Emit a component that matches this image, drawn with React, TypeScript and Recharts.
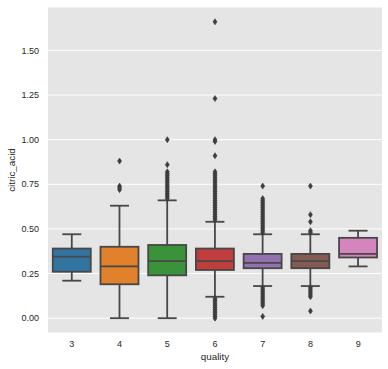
import React from 'react';
import { ComposedChart, Bar, Scatter, XAxis, YAxis, CartesianGrid, Label } from 'recharts';

// boxplot stats per wine quality (citric_acid)
const qualities = ['3', '4', '5', '6', '7', '8', '9'];
const whiskerLow = [0.21, 0.0, 0.0, 0.12, 0.18, 0.18, 0.29];
const lowerQuartile = [0.26, 0.19, 0.24, 0.27, 0.28, 0.28, 0.34];
const medians = [0.345, 0.29, 0.32, 0.32, 0.31, 0.32, 0.36];
const upperQuartile = [0.39, 0.40, 0.41, 0.39, 0.36, 0.36, 0.45];
const whiskerHigh = [0.47, 0.63, 0.66, 0.54, 0.47, 0.47, 0.49];

const fliers: number[][] = [
  [],
  [0.88, 0.74, 0.73, 0.72],
  [1.0, 0.86, 0.82, 0.81, 0.8, 0.79, 0.78, 0.77, 0.76, 0.75, 0.74, 0.73, 0.72, 0.71, 0.7, 0.69, 0.68, 0.67],
  [
    1.66, 1.23, 1.0, 0.99, 0.91, 0.82, 0.81, 0.8, 0.79, 0.78, 0.77, 0.76, 0.75, 0.74, 0.73, 0.72, 0.71, 0.7,
    0.69, 0.68, 0.67, 0.66, 0.65, 0.64, 0.63, 0.62, 0.61, 0.6, 0.59, 0.58, 0.57, 0.56, 0.55,
    0.11, 0.1, 0.09, 0.08, 0.07, 0.06, 0.05, 0.04, 0.03, 0.02, 0.01, 0.0,
  ],
  [
    0.74, 0.67, 0.66, 0.65, 0.64, 0.63, 0.62, 0.61, 0.6, 0.59, 0.58, 0.57, 0.56, 0.55, 0.54, 0.53, 0.52,
    0.51, 0.5, 0.49, 0.48, 0.17, 0.16, 0.15, 0.14, 0.13, 0.12, 0.11, 0.1, 0.09, 0.08, 0.07, 0.01,
  ],
  [0.74, 0.58, 0.54, 0.49, 0.48, 0.17, 0.16, 0.15, 0.14, 0.13, 0.12, 0.04],
  [],
];

const yTicks = [0, 0.25, 0.5, 0.75, 1.0, 1.25, 1.5];
const boxColors = ['#3274a1', '#e1812c', '#3a923a', '#c03d3e', '#9372b2', '#845b53', '#d684bd'];

const LINE = '#474747';

const data = qualities.map((q, i) => ({
  quality: q,
  span: [whiskerLow[i], whiskerHigh[i]],
  lo: whiskerLow[i],
  q1: lowerQuartile[i],
  med: medians[i],
  q3: upperQuartile[i],
  hi: whiskerHigh[i],
}));

const flierPoints = qualities.flatMap((q, i) => fliers[i].map(v => ({ quality: q, value: v })));

const BoxShape = (props: any) => {
  const { x, y, width, height, payload, index } = props;
  const top = Math.min(y, y + height);
  const bottom = Math.max(y, y + height);
  const { lo, hi, q1, med, q3 } = payload;
  const toY = (v: number) => bottom - ((v - lo) / (hi - lo)) * (bottom - top);
  const cx = x + width / 2;
  const capW = width / 4;
  return (
    <g>
      <line x1={cx} x2={cx} y1={toY(hi)} y2={toY(q3)} stroke={LINE} strokeWidth={1.8} />
      <line x1={cx} x2={cx} y1={toY(q1)} y2={toY(lo)} stroke={LINE} strokeWidth={1.8} />
      <line x1={cx - capW} x2={cx + capW} y1={toY(hi)} y2={toY(hi)} stroke={LINE} strokeWidth={1.8} />
      <line x1={cx - capW} x2={cx + capW} y1={toY(lo)} y2={toY(lo)} stroke={LINE} strokeWidth={1.8} />
      <rect
        x={x}
        y={toY(q3)}
        width={width}
        height={toY(q1) - toY(q3)}
        fill={boxColors[index]}
        stroke={LINE}
        strokeWidth={1.8}
      />
      <line x1={x} x2={x + width} y1={toY(med)} y2={toY(med)} stroke={LINE} strokeWidth={1.8} />
    </g>
  );
};

const Diamond = (props: any) => {
  const { cx, cy } = props;
  if (cx == null || cy == null) return null;
  return (
    <polygon
      points={`${cx},${cy - 3} ${cx + 2},${cy} ${cx},${cy + 3} ${cx - 2},${cy}`}
      fill="#3d3d3d"
      stroke="#3d3d3d"
      strokeWidth={0.6}
    />
  );
};

const tickStyle = { fill: '#262626', fontSize: 9, fontFamily: 'Liberation Sans, Arial, sans-serif' };

export default function App() {
  return (
    <div style={{ position: 'absolute', left: 0, top: 0, width: 388, height: 369, background: '#fff' }}>
      <ComposedChart width={388} height={369} data={data} margin={{ top: 7, right: 6, left: 8, bottom: 0 }}>
        <CartesianGrid vertical={false} stroke="#ffffff" strokeWidth={1} fill="#e5e5e5" />
        <XAxis
          dataKey="quality"
          type="category"
          allowDuplicatedCategory={false}
          axisLine={false}
          tickLine={false}
          height={36}
          tick={tickStyle}
        >
          <Label
            content={(p: any) => {
              const vb = p.viewBox;
              return (
                <text
                  x={vb.x + vb.width / 2}
                  y={360}
                  textAnchor="middle"
                  fill="#262626"
                  fontSize={9.8}
                  fontFamily="Liberation Sans, Arial, sans-serif"
                >
                  quality
                </text>
              );
            }}
          />
        </XAxis>
        <YAxis
          type="number"
          domain={[-0.083, 1.743]}
          ticks={yTicks}
          allowDataOverflow
          axisLine={false}
          tickLine={false}
          tickMargin={3}
          width={40}
          tick={tickStyle}
          tickFormatter={(v: number) => v.toFixed(2)}
        >
          <Label
            content={(p: any) => {
              const vb = p.viewBox;
              const cy = vb.y + vb.height / 2;
              return (
                <text
                  x={15}
                  y={cy}
                  transform={`rotate(-90, 15, ${cy})`}
                  textAnchor="middle"
                  fill="#262626"
                  fontSize={9.8}
                  fontFamily="Liberation Sans, Arial, sans-serif"
                >
                  citric_acid
                </text>
              );
            }}
          />
        </YAxis>
        <Bar dataKey="span" shape={<BoxShape />} isAnimationActive={false} />
        <Scatter data={flierPoints} dataKey="value" shape={<Diamond />} isAnimationActive={false} />
      </ComposedChart>
    </div>
  );
}
